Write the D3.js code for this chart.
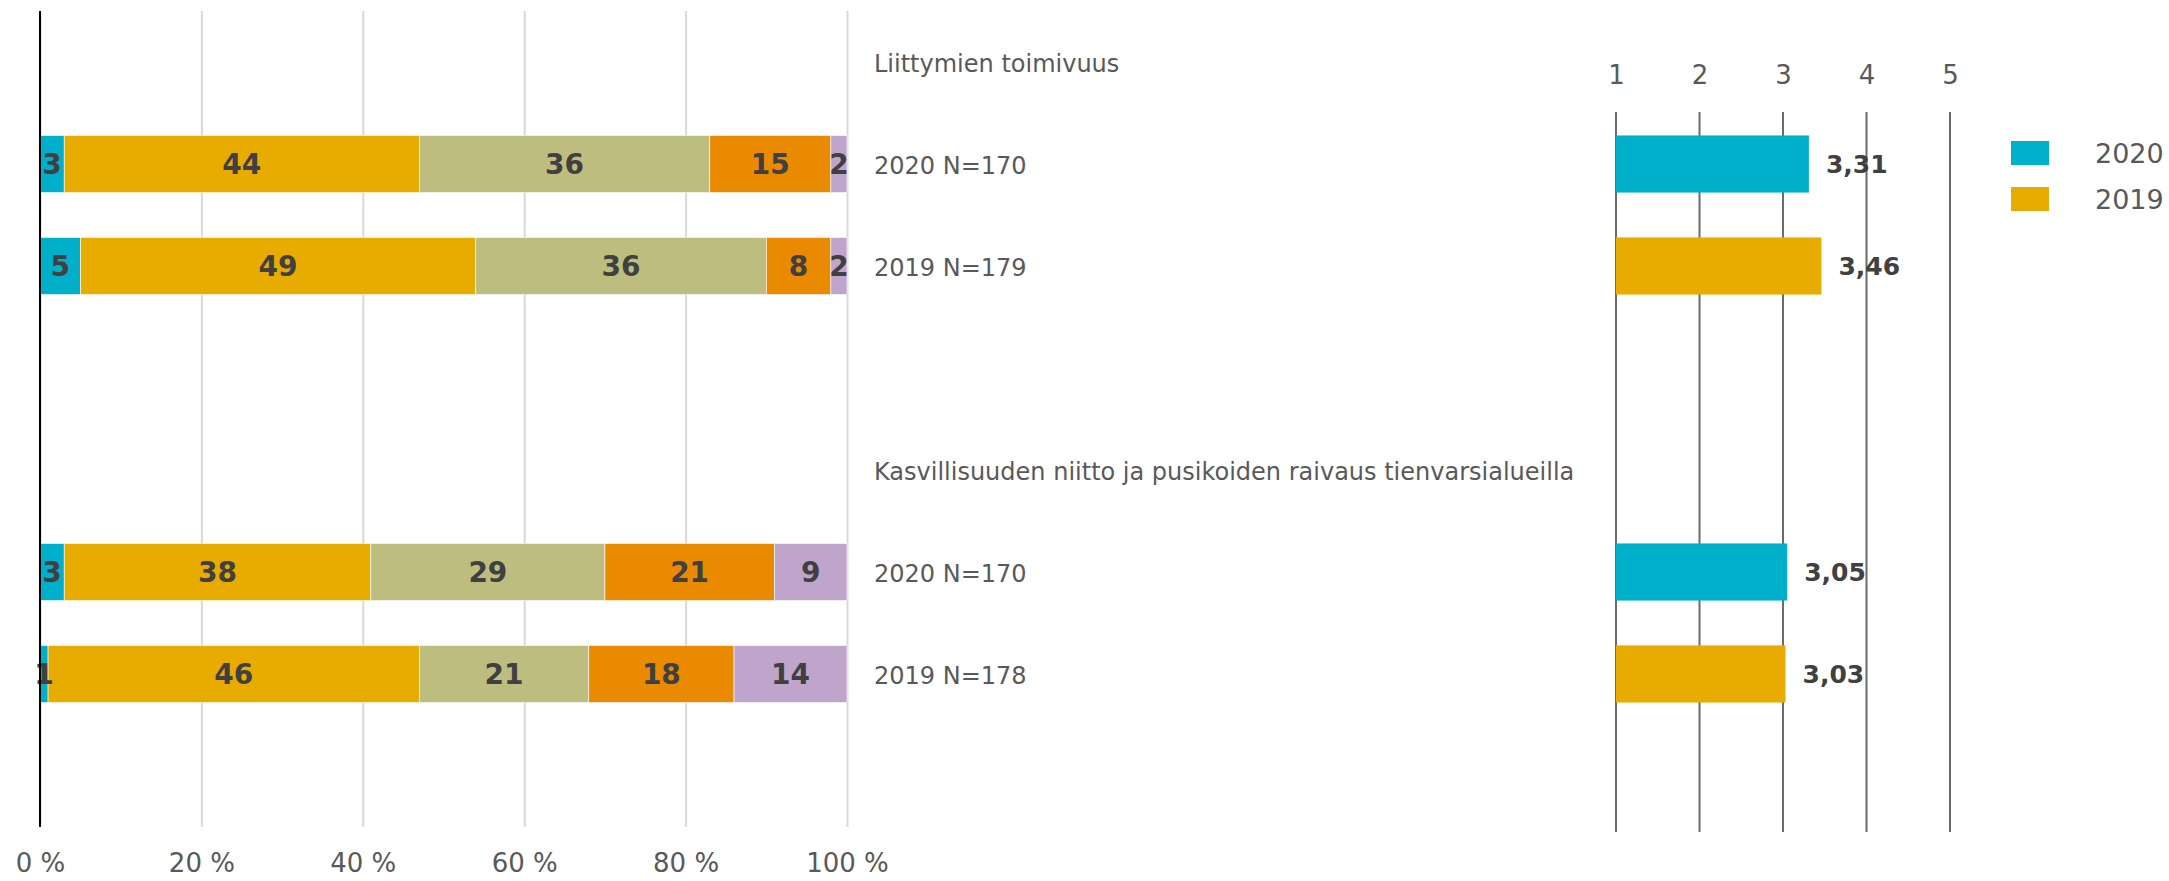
<!DOCTYPE html>
<html>
<head>
<meta charset="utf-8">
<script src="https://cdn.jsdelivr.net/npm/d3@7"></script>
<style>
  html, body { margin: 0; padding: 0; background: #fff; }
  svg { display: block; font-family: "DejaVu Sans", Verdana, sans-serif; }
</style>
</head>
<body>
<svg id="chart" width="2169" height="881"></svg>
<script>
// ---- data ----
const rowLabels = [
  "Liittymien toimivuus",
  "2020 N=170",
  "2019 N=179",
  "",
  "Kasvillisuuden niitto ja pusikoiden raivaus tienvarsialueilla",
  "2020 N=170",
  "2019 N=178",
  ""
];
const barRows = [1, 2, 5, 6];           // rows that carry bars
const barYears = ["2020", "2019", "2020", "2019"];
const segNames = ["s1", "s2", "s3", "s4", "s5"];
const segColors = ["#00B0CA", "#E8AB00", "#BDBD80", "#E98A00", "#BFA5CC"];
const pctValues = [
  [3, 44, 36, 15, 2],
  [5, 49, 36, 8, 2],
  [3, 38, 29, 21, 9],
  [1, 46, 21, 18, 14]
];
const meanValues = [3.31, 3.46, 3.05, 3.03];
const pctTicks = [0, 20, 40, 60, 80, 100];
const meanTicks = [1, 2, 3, 4, 5];
const legendYears = ["2020", "2019"];
const yearColors = { "2020": "#00B0CA", "2019": "#E8AB00" };

// ---- layout ----
const svg = d3.select("#chart");
const yTop = 11, yBottom = 827;
const y = d3.scaleBand().domain(d3.range(rowLabels.length)).range([yTop, yBottom]).padding(0);
const bw = y.bandwidth();
const barH = bw * 0.56;
const barY = r => y(r) + (bw - barH) / 2;
const rowC = r => y(r) + bw / 2;

const x = d3.scaleLinear().domain([0, 100]).range([40, 847]);
const xr = d3.scaleLinear().domain([1, 5]).range([1616, 1950]);

// left axis with gridlines
const gx = svg.append("g").attr("transform", `translate(0,${yBottom})`)
  .call(d3.axisBottom(x).tickValues(pctTicks).tickFormat(d => d + " %")
        .tickSize(-(yBottom - yTop)).tickPadding(27));
gx.select(".domain").remove();
gx.selectAll(".tick line").attr("stroke", "#D9D9D9").attr("stroke-width", 2);
gx.selectAll(".tick text").attr("fill", "#595959").attr("font-size", 26)
  .attr("font-family", "DejaVu Sans, sans-serif");

// stacked bars
const stack = d3.stack().keys(d3.range(segNames.length));
const series = stack(pctValues);
const gBars = svg.append("g");
series.forEach((s, si) => {
  s.forEach((d, bi) => {
    const r = barRows[bi];
    gBars.append("rect")
      .attr("x", x(d[0])).attr("y", barY(r))
      .attr("width", x(d[1]) - x(d[0])).attr("height", barH)
      .attr("fill", segColors[si])
      .attr("stroke", "#fff").attr("stroke-width", 0.6);
  });
});
series.forEach((s, si) => {
  s.forEach((d, bi) => {
    const r = barRows[bi];
    gBars.append("text")
      .attr("x", (x(d[0]) + x(d[1])) / 2).attr("y", rowC(r))
      .attr("dy", "0.36em").attr("text-anchor", "middle")
      .attr("font-size", 28).attr("font-weight", "bold").attr("fill", "#404040")
      .text(pctValues[bi][si]);
  });
});

// zero axis line
svg.append("line").attr("x1", x(0)).attr("x2", x(0)).attr("y1", yTop).attr("y2", yBottom)
  .attr("stroke", "#000").attr("stroke-width", 2);

// category labels
svg.append("g").selectAll("text").data(rowLabels).join("text")
  .attr("x", 874).attr("y", (d, i) => rowC(i)).attr("dy", "0.4em")
  .attr("font-size", 24).attr("fill", "#595959")
  .text(d => d);

// right chart: gridlines
const gr = svg.append("g");
gr.selectAll("line").data(meanTicks).join("line")
  .attr("x1", d => xr(d)).attr("x2", d => xr(d))
  .attr("y1", 112).attr("y2", 832)
  .attr("stroke", "#6b6b6b").attr("stroke-width", 2);

const axR = svg.append("g").attr("transform", "translate(0,84)")
  .call(d3.axisTop(xr).tickValues(meanTicks).tickFormat(d3.format("d")).tickSize(0).tickPadding(0));
axR.select(".domain").remove();
axR.selectAll(".tick text").attr("fill", "#595959").attr("font-size", 26)
  .attr("dy", 0).attr("font-family", "DejaVu Sans, sans-serif");

// right bars
const gMean = svg.append("g");
meanValues.forEach((v, i) => {
  const r = barRows[i];
  gMean.append("rect")
    .attr("x", xr(1)).attr("y", barY(r))
    .attr("width", xr(v) - xr(1)).attr("height", barH)
    .attr("fill", yearColors[barYears[i]]);
  gMean.append("text")
    .attr("x", xr(v) + 17).attr("y", rowC(r)).attr("dy", "0.36em")
    .attr("font-size", 25).attr("font-weight", "bold").attr("fill", "#404040")
    .text(d3.format(".2f")(v).replace(".", ","));
});

// legend
const lg = svg.append("g");
legendYears.forEach((yr, i) => {
  lg.append("rect").attr("x", 2011).attr("y", 141 + i * 46).attr("width", 38).attr("height", 24)
    .attr("fill", yearColors[yr]);
  lg.append("text").attr("x", 2095).attr("y", 153 + i * 46).attr("dy", "0.36em")
    .attr("font-size", 27).attr("fill", "#595959").text(yr);
});
</script>
</body>
</html>
